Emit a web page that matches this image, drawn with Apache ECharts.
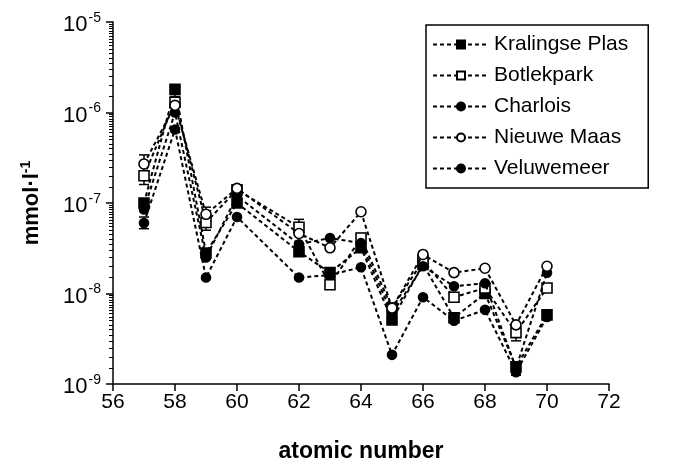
<!DOCTYPE html>
<html>
<head>
<meta charset="utf-8">
<script src="https://cdn.jsdelivr.net/npm/echarts@6/dist/echarts.min.js"></script>
<style>
  html, body { margin: 0; padding: 0; background: #fff; }
  #chart { width: 673px; height: 469px; }
</style>
</head>
<body>
<div id="chart"></div>
<script>
// atomic numbers (La .. Yb, no Pm)
const atomicNumbers = [57, 58, 59, 60, 62, 63, 64, 65, 66, 67, 68, 69, 70];

// concentrations, mmol/l
const kralingse  = [1.0e-7, 1.8e-6, 2.8e-8, 1.0e-7, 2.9e-8, 1.7e-8, 3.2e-8, 5.1e-9, 2.1e-8, 5.4e-9, 1.0e-8, 1.55e-9, 5.8e-9];
const botlekpark = [2.0e-7, 1.3e-6, 6.1e-8, 1.4e-7, 5.4e-8, 1.25e-8, 4.1e-8, 6.9e-9, 2.3e-8, 9.1e-9, 1.15e-8, 3.7e-9, 1.15e-8];
const charlois   = [8.5e-8, 1.0e-6, 2.5e-8, 1.2e-7, 3.5e-8, 4.1e-8, 3.6e-8, 6.0e-9, 2.0e-8, 1.2e-8, 1.3e-8, 1.5e-9, 1.7e-8];
const nieuweMaas = [2.7e-7, 1.2e-6, 7.5e-8, 1.45e-7, 4.6e-8, 3.2e-8, 8.0e-8, 6.9e-9, 2.7e-8, 1.7e-8, 1.9e-8, 4.5e-9, 2.0e-8];
const veluwemeer = [6.0e-8, 6.5e-7, 1.5e-8, 7.0e-8, 1.5e-8, 1.6e-8, 1.95e-8, 2.1e-9, 9.1e-9, 5.0e-9, 6.6e-9, 1.35e-9, 5.5e-9];

// visible error bars: [atomic number, low, high]
const errorBars = [
  [57, 1.6e-7, 3.4e-7], [57, 5.2e-8, 7.0e-8], [58, 1.5e-6, 2.0e-6],
  [59, 5.0e-8, 9.0e-8], [62, 4.5e-8, 6.6e-8], [69, 3.0e-9, 4.6e-9],
  [69, 1.25e-9, 1.7e-9], [64, 3.4e-8, 4.6e-8]
];

const seriesNames = ['Kralingse Plas', 'Botlekpark', 'Charlois', 'Nieuwe Maas', 'Veluwemeer'];
const seriesData = [kralingse, botlekpark, charlois, nieuweMaas, veluwemeer];
const symbols = ['rect', 'rect', 'circle', 'circle', 'circle'];
const filled = [true, false, true, false, true];
const symSizes = [10, 10, 9, 10, 9];

const chart = echarts.init(document.getElementById('chart'));

const lineSeries = seriesNames.map((name, i) => ({
  name: name,
  type: 'line',
  data: atomicNumbers.map((x, j) => [x, seriesData[i][j]]),
  symbol: symbols[i],
  symbolSize: symSizes[i],
  showAllSymbol: true,
  z: 3 + i,
  lineStyle: { color: '#000', width: 2, type: [4, 3] },
  itemStyle: {
    color: filled[i] ? '#000' : '#fff',
    borderColor: '#000',
    borderWidth: 1.6
  }
}));

const errSeries = {
  type: 'custom',
  silent: true,
  z: 2,
  data: errorBars,
  renderItem: function (params, api) {
    const lo = api.coord([api.value(0), api.value(1)]);
    const hi = api.coord([api.value(0), api.value(2)]);
    const w = 5;
    const st = { stroke: '#000', lineWidth: 1.5 };
    return {
      type: 'group',
      children: [
        { type: 'line', shape: { x1: lo[0], y1: lo[1], x2: hi[0], y2: hi[1] }, style: st },
        { type: 'line', shape: { x1: hi[0] - w, y1: hi[1], x2: hi[0] + w, y2: hi[1] }, style: st },
        { type: 'line', shape: { x1: lo[0] - w, y1: lo[1], x2: lo[0] + w, y2: lo[1] }, style: st }
      ]
    };
  }
};

const option = {
  animation: false,
  backgroundColor: '#fff',
  textStyle: { fontFamily: 'Liberation Sans, Arial, sans-serif', color: '#000' },
  grid: { left: 113, right: 64, top: 22, bottom: 85 },
  legend: {
    orient: 'vertical',
    left: 426,
    top: 25,
    padding: [9, 20, 9, 6],
    itemGap: 10,
    itemWidth: 56,
    itemHeight: 10,
    borderColor: '#000',
    borderWidth: 1.5,
    data: seriesNames,
    textStyle: { fontSize: 21, color: '#000', fontFamily: 'Liberation Sans, Arial, sans-serif' }
  },
  xAxis: {
    type: 'value',
    min: 56,
    max: 72,
    interval: 2,
    name: 'atomic number',
    nameLocation: 'middle',
    nameGap: 56,
    nameTextStyle: { fontSize: 23, fontWeight: 'bold', color: '#000' },
    splitLine: { show: false },
    axisLine: { onZero: false, lineStyle: { color: '#000', width: 1.5 } },
    axisTick: { show: true, length: 7, lineStyle: { color: '#000', width: 1.5 } },
    axisLabel: { fontSize: 21, color: '#000', margin: 8 }
  },
  yAxis: {
    type: 'log',
    logBase: 10,
    min: 1e-9,
    max: 1e-5,
    interval: 1,
    name: 'mmol·l{s|-1}',
    nameLocation: 'middle',
    nameGap: 68,
    nameRotate: 90,
    nameTextStyle: {
      fontSize: 22, fontWeight: 'bold', color: '#000',
      rich: { s: { fontSize: 14, fontWeight: 'bold', padding: [0, 0, 12, 0] } }
    },
    splitLine: { show: false },
    axisLine: { lineStyle: { color: '#000', width: 1.5 } },
    axisTick: { show: true, length: 7, lineStyle: { color: '#000', width: 1.5 } },
    minorTick: { show: true, splitNumber: 18, length: 4, lineStyle: { color: '#000', width: 1 } },
    axisLabel: {
      margin: 12,
      formatter: function (v) {
        const e = Math.round(Math.log10(v));
        return '{b|10}{s|' + e + '}';
      },
      rich: {
        b: { fontSize: 22, color: '#000', padding: [6, 0, 0, 0] },
        s: { fontSize: 14, color: '#000', padding: [0, 0, 8, 1] }
      }
    }
  },
  series: lineSeries.concat([errSeries])
};

chart.setOption(option);
</script>
</body>
</html>
